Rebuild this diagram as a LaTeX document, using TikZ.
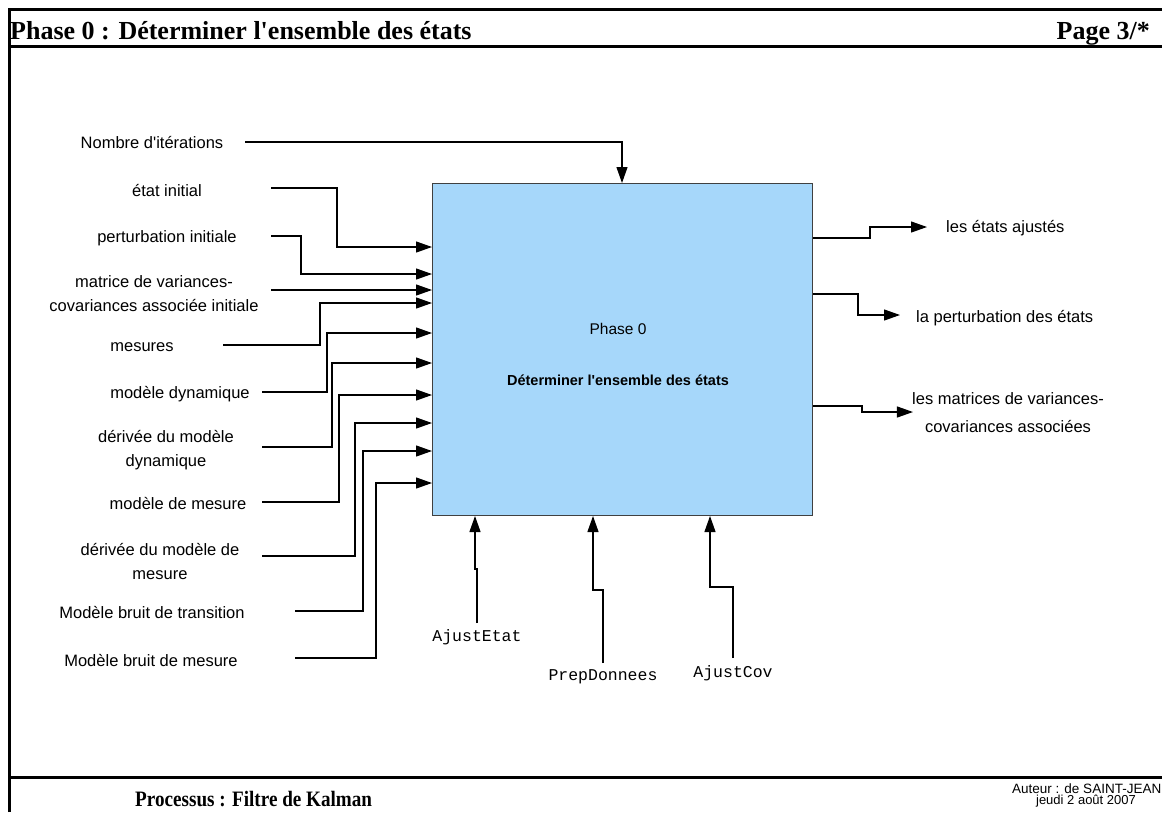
\documentclass[tikz,border=0pt]{standalone}
\usepackage{fontspec}
\setmainfont{Liberation Sans}
\setmonofont{Liberation Mono}
\newfontfamily\headfont{Liberation Serif}
\usetikzlibrary{positioning,arrows.meta,calc}
\definecolor{procblue}{RGB}{166,215,250}

\begin{document}
\begin{tikzpicture}[
  x=1pt, y=-1pt,
  font=\fontsize{16.5}{24}\selectfont,
  frame/.style={line width=3pt},
  procbox/.style={draw=black!75, fill=procblue, line width=1pt, anchor=north west,
                  minimum width=380pt, minimum height=332pt, inner sep=0pt},
  lbl/.style={align=center, inner sep=0pt},
  ctrl/.style={font=\ttfamily\fontsize{16.5}{20}\selectfont, inner sep=0pt},
  head/.style={font=\headfont\bfseries\fontsize{26}{30}\selectfont, inner sep=0pt},
  arr/.style={-{Triangle[length=16pt,width=11pt]}, line width=1.2pt}
]
\useasboundingbox (0,0) rectangle (1162,812);
% ---- page frame ----
\draw[frame] (9,812) -- (9,9) -- (1162,9);
\draw[frame] (9,46) -- (1162,46);
\draw[frame] (9,777) -- (1162,777);
\node[head, anchor=base west] (title) at (10,39) {Phase 0 : Déterminer l'ensemble des états};
\node[head, anchor=base east] (page)  at (1150,39) {Page 3/*};
\node[head, anchor=base west, font=\headfont\bfseries\fontsize{22}{26}\selectfont] (proc) at (135,806) {\scalebox{0.87}[1]{Processus : Filtre de Kalman}};
\node[anchor=base west, inner sep=0pt, font=\fontsize{13.5}{16}\selectfont] (auteur) at (1012,793) {Auteur : de SAINT-JEAN};
\node[anchor=base, inner sep=0pt, font=\fontsize{13}{14}\selectfont] (date) at (1086,804) {jeudi 2 août 2007};
% ---- activity box ----
\node[procbox] (phase) at (432,183) {};
\node[inner sep=0pt, font=\fontsize{15.5}{18}\selectfont] (pnum) at (618,329) {Phase 0};
\node[inner sep=0pt, font=\bfseries\fontsize{14.5}{18}\selectfont] (pname) at (618,380) {Déterminer l\textquotesingle ensemble des états};
% ---- inputs (left) ----
\node[lbl] (nbiter)   at (152,143) {Nombre d\textquotesingle itérations};
\node[lbl] (etatini)  at (167,190) {état initial};
\node[lbl] (pertini)  at (167,238) {perturbation initiale};
\node[lbl] (matvar)   at (154,294) {matrice de variances-\\covariances associée initiale};
\node[lbl] (mesures)  at (142,347) {mesures};
\node[lbl] (moddyn)   at (180,394) {modèle dynamique};
\node[lbl] (derdyn)   at (166,450) {dérivée du modèle\\dynamique};
\node[lbl] (modmes)   at (178,503) {modèle de mesure};
\node[lbl] (dermes)   at (160,561) {dérivée du modèle de\\mesure};
\node[lbl] (bruittr)  at (152,612) {Modèle bruit de transition};
\node[lbl] (bruitmes) at (151,660) {Modèle bruit de mesure};
\coordinate (s1)  at (245,142);
\coordinate (s2)  at (271,188);
\coordinate (s3)  at (271,236);
\coordinate (s4)  at (271,290);
\coordinate (s5)  at (223,345);
\coordinate (s6)  at (262,392);
\coordinate (s7)  at (262,447);
\coordinate (s8)  at (262,502);
\coordinate (s9)  at (262,556);
\coordinate (s10) at (295,611);
\coordinate (s11) at (295,658);
\draw[arr] (s1) -| ($(phase.north west)+(190,0)$);
\draw[arr] (s2) -- ++(66,0) |- ($(phase.north west)+(0,64)$);
\draw[arr] (s3) -- ++(30,0) |- ($(phase.north west)+(0,91)$);
\draw[arr] (s4) -- (s4 -| phase.west);
\draw[arr] (s5) -- ++(97,0) |- ($(phase.north west)+(0,120)$);
\draw[arr] (s6) -- ++(65,0) |- ($(phase.north west)+(0,150)$);
\draw[arr] (s7) -- ++(70,0) |- ($(phase.north west)+(0,180)$);
\draw[arr] (s8) -- ++(77,0) |- ($(phase.north west)+(0,212)$);
\draw[arr] (s9) -- ++(93,0) |- ($(phase.north west)+(0,240)$);
\draw[arr] (s10) -- ++(68,0) |- ($(phase.north west)+(0,268)$);
\draw[arr] (s11) -- ++(81,0) |- ($(phase.north west)+(0,300)$);
% ---- outputs (right) ----
\node[lbl, anchor=west] (etatsaj) at (946,228) {les états ajustés};
\node[lbl, anchor=west] (pertet)  at (916,318) {la perturbation des états};
\node[lbl] (matcov) at (1008,413) {les matrices de variances-\\[4pt]covariances associées};
\draw[arr] ($(phase.north east)+(0,55)$) -- ++(57,0) |- ($(etatsaj.west)+(-19,-1)$);
\draw[arr] ($(phase.north east)+(0,111)$) -- ++(45,0) |- ($(pertet.west)+(-16,-3)$);
\draw[arr] ($(phase.north east)+(0,223)$) -- ++(49,0) |- ($(matcov.west)+(1,-1)$);
% ---- controls (bottom) ----
\node[ctrl] (ajetat) at (477,637) {AjustEtat};
\node[ctrl] (prepdon) at (603,677) {PrepDonnees};
\node[ctrl] (ajcov) at (733,673) {AjustCov};
\coordinate (b1) at (477,623);
\coordinate (b2) at (603,663);
\coordinate (b3) at (733,658);
\draw[arr] (b1) -- ++(0,-54) -| ($(phase.south west)+(43,0)$);
\draw[arr] (b2) -- ++(0,-73) -| ($(phase.south west)+(161,0)$);
\draw[arr] (b3) -- ++(0,-71) -| ($(phase.south west)+(278,0)$);
\end{tikzpicture}
\end{document}
